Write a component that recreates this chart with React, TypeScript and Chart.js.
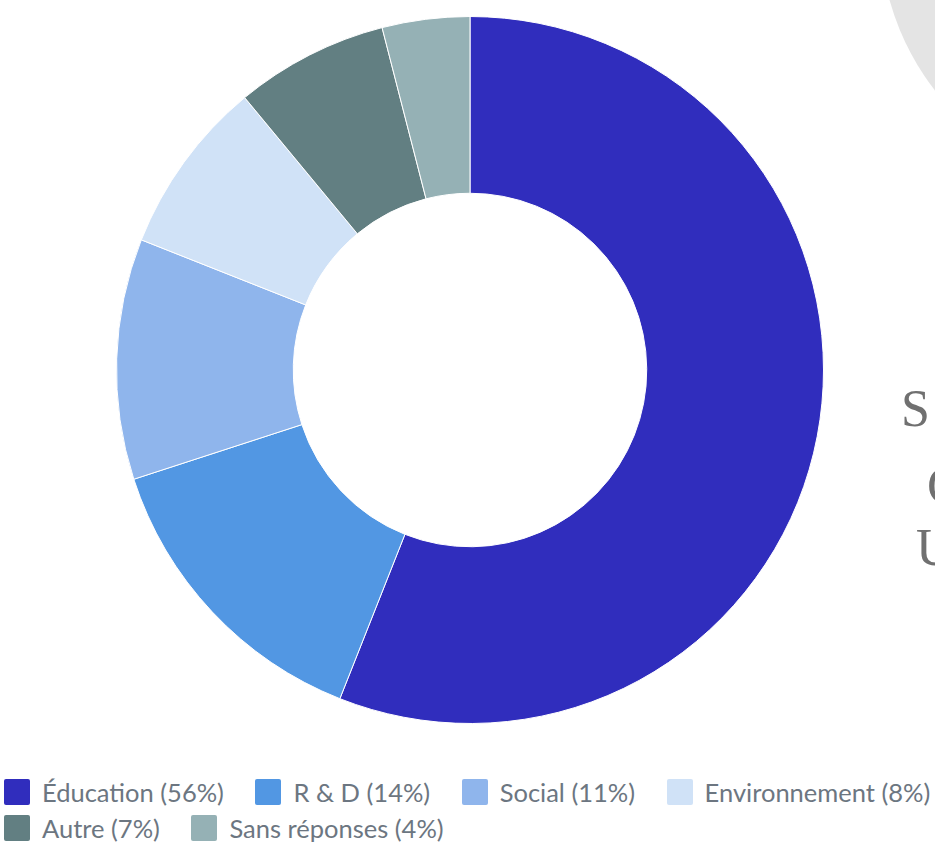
import React, { useEffect, useRef } from "react";
import { Chart, registerables } from "chart.js";

Chart.register(...registerables);

const categories = ["Éducation", "R & D", "Social", "Environnement", "Autre", "Sans réponses"];
const values = [56, 14, 11, 8, 7, 4];
const colors = ["#302DBD", "#5297E3", "#8FB5EC", "#D0E2F7", "#627F82", "#95B1B5"];
const legendLabels = categories.map((c, i) => `${c} (${values[i]}%)`);

export default function App() {
  const canvasRef = useRef<HTMLCanvasElement | null>(null);

  useEffect(() => {
    document.body.style.margin = "0";
    const canvas = canvasRef.current;
    if (!canvas) return;
    const chart = new Chart(canvas, {
      type: "doughnut",
      data: {
        labels: categories,
        datasets: [
          {
            data: values,
            backgroundColor: colors,
            borderColor: "#ffffff",
            borderWidth: 1,
          },
        ],
      },
      options: {
        responsive: true,
        maintainAspectRatio: false,
        animation: false,
        cutout: "50%",
        layout: { padding: { left: 5, right: 0, top: 16, bottom: 16 } },
        plugins: {
          legend: { display: false },
          tooltip: { enabled: false },
        },
      },
    });
    return () => chart.destroy();
  }, []);

  return (
    <div style={{ position: "relative", width: 935, height: 842, overflow: "hidden", background: "#fff" }}>
      <div
        style={{
          position: "absolute",
          left: 1142 - 262,
          top: -70 - 262,
          width: 524,
          height: 524,
          borderRadius: "50%",
          background: "#e4e4e4",
        }}
      />
      {[
        { t: "S", x: 901, y: 383 },
        { t: "C", x: 927, y: 460 },
        { t: "U", x: 916, y: 522 },
      ].map((d) => (
        <div
          key={d.t}
          style={{
            position: "absolute",
            left: d.x,
            top: d.y,
            fontFamily: "'Liberation Serif', serif",
            fontSize: 52,
            lineHeight: "52px",
            color: "#707070",
          }}
        >
          {d.t}
        </div>
      ))}
      <div style={{ position: "absolute", left: 0, top: 0, width: 935, height: 740 }}>
        <canvas ref={canvasRef} />
      </div>
      <div
        style={{
          position: "absolute",
          left: 4,
          top: 779,
          width: 950,
          display: "flex",
          flexWrap: "wrap",
          columnGap: 31.5,
          rowGap: 10,
          fontFamily: "Lato, sans-serif",
          fontSize: 25.5,
          color: "#6C7681",
        }}
      >
        {legendLabels.map((label, i) => (
          <div key={label} style={{ display: "flex", alignItems: "center", height: 26, whiteSpace: "nowrap" }}>
            <span
              style={{
                display: "inline-block",
                width: 26,
                height: 26,
                borderRadius: 2,
                background: colors[i],
                marginRight: 12,
              }}
            />
            <span style={{ lineHeight: "26px" }}>{label}</span>
          </div>
        ))}
      </div>
    </div>
  );
}
